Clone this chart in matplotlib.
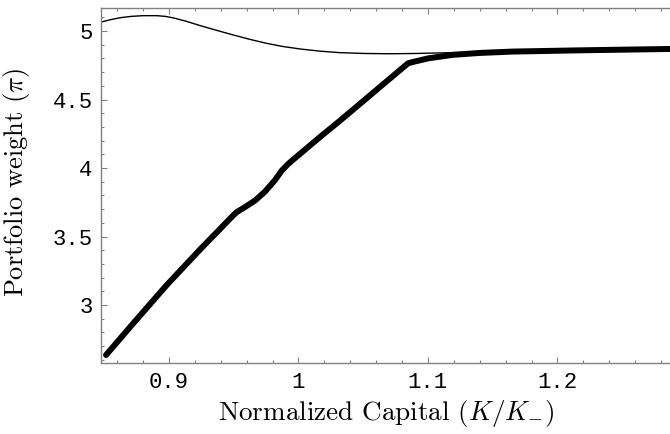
import matplotlib
matplotlib.use("Agg")
import matplotlib.pyplot as plt
from matplotlib.ticker import MultipleLocator

plt.rcParams["mathtext.fontset"] = "cm"
plt.rcParams["axes.unicode_minus"] = False

# thin curve
thin_x = [0.8467, 0.8545, 0.8622, 0.871, 0.8802, 0.8905, 0.897, 0.9033, 0.913,
          0.9239, 0.9368, 0.9497, 0.9625, 0.9754, 0.988, 1.0012, 1.0166, 1.032,
          1.0514, 1.0707, 1.09, 1.119, 1.1656, 1.217, 1.287]
thin_y = [5.063, 5.082, 5.097, 5.107, 5.112, 5.112, 5.107, 5.096, 5.072,
          5.040, 5.005, 4.971, 4.939, 4.910, 4.887, 4.869, 4.853, 4.842,
          4.836, 4.834, 4.836, 4.842, 4.852, 4.859, 4.869]

# thick curve
thick_x = [0.8514, 0.8724, 0.8982, 0.924, 0.9497, 0.9523, 0.9587, 0.9664, 0.9741,
           0.9819, 0.987, 0.9921, 0.9998, 1.0102, 1.0179, 1.032, 1.0846, 1.0884,
           1.10, 1.119, 1.14, 1.1656, 1.217, 1.287]
thick_y = [2.635, 2.866, 3.145, 3.405, 3.655, 3.678, 3.715, 3.762, 3.827,
           3.912, 3.980, 4.030, 4.092, 4.175, 4.236, 4.345, 4.764, 4.774,
           4.800, 4.826, 4.840, 4.850, 4.859, 4.869]

xticks = [0.9, 1.0, 1.1, 1.2]
xticklabels = ["0.9", "1", "1.1", "1.2"]
yticks = [3, 3.5, 4, 4.5, 5]
yticklabels = ["3", "3.5", "4", "4.5", "5"]

fig = plt.figure(figsize=(6.7, 4.34), dpi=100)
ax = fig.add_axes([101 / 670, 70.7 / 434, 571 / 670, 355.3 / 434])

ax.plot(thin_x, thin_y, color="black", lw=1.0)
ax.plot(thick_x, thick_y, color="black", lw=4.3,
        solid_capstyle="round", solid_joinstyle="round")

ax.set_xlim(0.8475, 1.2885)
ax.set_ylim(2.5745, 5.168)

ax.set_xticks(xticks)
ax.set_xticklabels(xticklabels)
ax.set_yticks(yticks)
ax.set_yticklabels(yticklabels)
ax.xaxis.set_minor_locator(MultipleLocator(0.02))
ax.yaxis.set_minor_locator(MultipleLocator(0.1))

spine_color = "#808080"
for s in ax.spines.values():
    s.set_color(spine_color)
    s.set_linewidth(1.0)
ax.spines["right"].set_visible(False)

ax.tick_params(which="both", direction="in", top=True, right=False,
               color=spine_color, width=0.8)
ax.tick_params(which="major", length=4.5, labelsize=16, pad=6)
ax.tick_params(which="minor", length=2.5)
for lab in ax.get_xticklabels() + ax.get_yticklabels():
    lab.set_family("Liberation Mono")

ax.set_xlabel(r"Normalized Capital $(K/K_{-})$", family="cmr10",
              fontsize=19.5, labelpad=4)
ax.set_ylabel(r"Portfolio weight $(\pi)$", family="cmr10", fontsize=19)
ax.yaxis.set_label_coords(-0.12, 0.51)

fig.savefig("out.png", dpi=100)
